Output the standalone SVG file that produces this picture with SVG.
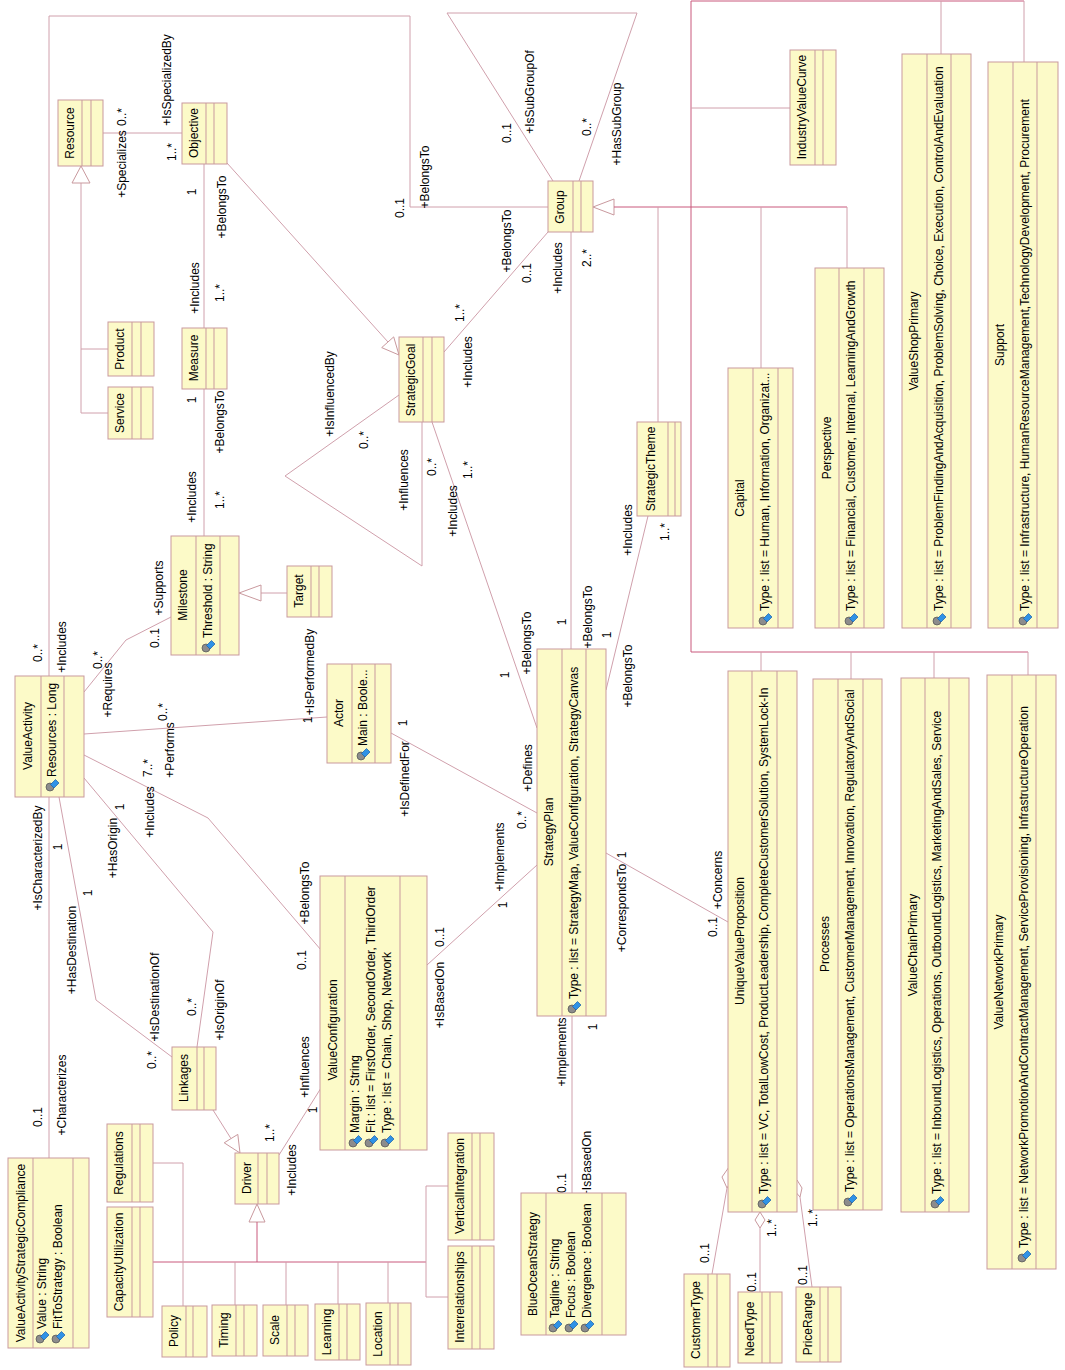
<svg xmlns="http://www.w3.org/2000/svg" xmlns:xlink="http://www.w3.org/1999/xlink" width="1065" height="1370" viewBox="0 0 1065 1370">
<style>
text{font-family:"Liberation Sans",Arial,sans-serif;font-size:12px;fill:#000;dominant-baseline:central}
.c{text-anchor:middle}
.s{text-anchor:start}
.box{fill:#fcfac8;stroke:#c9999e;stroke-width:1}
.cp{fill:none;stroke:#c9999e;stroke-width:1}
.a{fill:none;stroke:#d0a0ac;stroke-width:1}
.g{fill:none;stroke:#c9587d;stroke-width:1}
.tri{fill:#fff;stroke:#c9999e;stroke-width:1}
.dia{fill:#fff;stroke:#c9999e;stroke-width:1}
</style>
<defs>
<g id="ic"><circle cx="-2" cy="2" r="4" fill="#8c8c8c" stroke="#505050" stroke-width=".7"/><path d="M-1.5 -0.5L3.5 -5.5L7 -2L2 3Z" fill="#2f92e6" stroke="#1a5fa8" stroke-width=".7"/></g>
</defs>
<rect width="1065" height="1370" fill="#fff"/>

<g id="connectors">
<polyline class="a" points="49,676 49,16 410,16 410,207 548,207"/>
<line class="a" x1="103" y1="133" x2="182" y2="133"/>
<polyline class="a" points="108,413 81,413 81,183"/>
<line class="a" x1="108" y1="349" x2="81" y2="349"/>
<polygon class="tri" points="81,166 72,183 90,183"/>
<line class="a" x1="227" y1="163" x2="388" y2="342"/>
<polygon class="tri" points="399,355 381.7,347.6 393.7,336.9"/>
<line class="a" x1="204" y1="164" x2="204" y2="328"/>
<line class="a" x1="204" y1="389" x2="204" y2="536"/>
<line class="a" x1="287" y1="593" x2="261" y2="593"/>
<polygon class="tri" points="239,593 261,585 261,601"/>
<polyline class="a" points="84,692 126,640 171,617"/>
<line class="a" x1="84" y1="734" x2="327" y2="717"/>
<polyline class="a" points="84,755 208,818 321,950"/>
<polyline class="a" points="59,797 96,1000 172,1057"/>
<polyline class="a" points="84,778 213,932 197,1047"/>
<line class="a" x1="49" y1="797" x2="49" y2="1158"/>
<line class="a" x1="213" y1="1110" x2="231" y2="1138.6"/>
<polygon class="tri" points="240,1153 224.2,1142.8 237.8,1134.4"/>
<line class="a" x1="279" y1="1155" x2="321" y2="1088"/>
<polygon class="tri" points="257,1204 249,1222 265,1222"/>
<line class="g" x1="257" y1="1222" x2="257" y2="1262"/>
<line class="g" x1="153" y1="1262" x2="426" y2="1262"/>
<polyline class="a" points="153,1163 183,1163 183,1306"/>
<line class="a" x1="235" y1="1262" x2="235" y2="1305"/>
<line class="a" x1="286" y1="1262" x2="286" y2="1305"/>
<line class="a" x1="338" y1="1262" x2="338" y2="1304"/>
<line class="a" x1="388" y1="1262" x2="388" y2="1303"/>
<polyline class="a" points="448,1186 426,1186 426,1297 448,1297"/>
<line class="a" x1="427" y1="965" x2="537" y2="865"/>
<line class="a" x1="391" y1="733" x2="537" y2="813"/>
<polyline class="a" points="399,395 285,476 422,566 422,422"/>
<line class="a" x1="432" y1="422" x2="537" y2="728"/>
<line class="a" x1="444" y1="352" x2="548" y2="232"/>
<polyline class="a" points="553,181 447,13 637,13 579,181"/>
<line class="a" x1="571" y1="232" x2="571" y2="649"/>
<polygon class="tri" points="593,207 614,199 614,215"/>
<line class="g" x1="614" y1="207" x2="847" y2="207"/>
<line class="g" x1="691" y1="1" x2="691" y2="652"/>
<line class="g" x1="691" y1="1" x2="1024" y2="1"/>
<line class="a" x1="941" y1="1" x2="941" y2="54"/>
<line class="a" x1="1024" y1="1" x2="1024" y2="62"/>
<line class="a" x1="691" y1="108" x2="790" y2="108"/>
<line class="a" x1="761" y1="207" x2="761" y2="368"/>
<line class="a" x1="847" y1="207" x2="847" y2="268"/>
<line class="a" x1="658" y1="207" x2="658" y2="422"/>
<line class="g" x1="691" y1="652" x2="1028" y2="652"/>
<line class="a" x1="761" y1="652" x2="761" y2="671"/>
<line class="a" x1="851" y1="652" x2="851" y2="679"/>
<line class="a" x1="934" y1="652" x2="934" y2="678"/>
<line class="a" x1="1028" y1="652" x2="1028" y2="675"/>
<line class="a" x1="648" y1="516" x2="606" y2="690"/>
<line class="a" x1="572" y1="1016" x2="572" y2="1193"/>
<line class="a" x1="606" y1="853" x2="728" y2="922"/>
<polygon class="dia" points="729,1167 734,1177 727,1188 722,1177"/>
<line class="a" x1="727" y1="1188" x2="712" y2="1274"/>
<polygon class="dia" points="760,1212 765,1220 760,1228 755,1220"/>
<line class="a" x1="760" y1="1228" x2="760" y2="1292"/>
<polygon class="dia" points="797,1180 802,1188 800,1197 793,1189"/>
<line class="a" x1="800" y1="1197" x2="812" y2="1287"/>
</g>

<g id="labels">
<text class="c" transform="translate(122 117) rotate(-90)">0..*</text>
<text class="c" transform="translate(122 164) rotate(-90)">+Specializes</text>
<text class="c" transform="translate(167 80) rotate(-90)">+IsSpecializedBy</text>
<text class="c" transform="translate(172 152) rotate(-90)">1..*</text>
<text class="c" transform="translate(192 192) rotate(-90)">1</text>
<text class="c" transform="translate(222 207) rotate(-90)">+BelongsTo</text>
<text class="c" transform="translate(195 288) rotate(-90)">+Includes</text>
<text class="c" transform="translate(220 293) rotate(-90)">1..*</text>
<text class="c" transform="translate(192 400) rotate(-90)">1</text>
<text class="c" transform="translate(220 422) rotate(-90)">+BelongsTo</text>
<text class="c" transform="translate(192 497) rotate(-90)">+Includes</text>
<text class="c" transform="translate(220 500) rotate(-90)">1..*</text>
<text class="c" transform="translate(38 653) rotate(-90)">0..*</text>
<text class="c" transform="translate(62 647) rotate(-90)">+Includes</text>
<text class="c" transform="translate(400 208) rotate(-90)">0..1</text>
<text class="c" transform="translate(425 177) rotate(-90)">+BelongsTo</text>
<text class="c" transform="translate(98 660) rotate(-90)">0..*</text>
<text class="c" transform="translate(108 690) rotate(-90)">+Requires</text>
<text class="c" transform="translate(155 638) rotate(-90)">0..1</text>
<text class="c" transform="translate(159 588) rotate(-90)">+Supports</text>
<text class="c" transform="translate(163 712) rotate(-90)">0..*</text>
<text class="c" transform="translate(170 750) rotate(-90)">+Performs</text>
<text class="c" transform="translate(308 720) rotate(-90)">1</text>
<text class="c" transform="translate(310 672) rotate(-90)">+IsPerformedBy</text>
<text class="c" transform="translate(148 768) rotate(-90)">7..*</text>
<text class="c" transform="translate(150 812) rotate(-90)">+Includes</text>
<text class="c" transform="translate(305 893) rotate(-90)">+BelongsTo</text>
<text class="c" transform="translate(302 960) rotate(-90)">0..1</text>
<text class="c" transform="translate(88 893) rotate(-90)">1</text>
<text class="c" transform="translate(72 950) rotate(-90)">+HasDestination</text>
<text class="c" transform="translate(152 1060) rotate(-90)">0..*</text>
<text class="c" transform="translate(155 997) rotate(-90)">+IsDestinationOf</text>
<text class="c" transform="translate(120 807) rotate(-90)">1</text>
<text class="c" transform="translate(113 848) rotate(-90)">+HasOrigin</text>
<text class="c" transform="translate(192 1007) rotate(-90)">0..*</text>
<text class="c" transform="translate(220 1010) rotate(-90)">+IsOriginOf</text>
<text class="c" transform="translate(58 847) rotate(-90)">1</text>
<text class="c" transform="translate(38 858) rotate(-90)">+IsCharacterizedBy</text>
<text class="c" transform="translate(38 1117) rotate(-90)">0..1</text>
<text class="c" transform="translate(62 1095) rotate(-90)">+Characterizes</text>
<text class="c" transform="translate(305 1067) rotate(-90)">+Influences</text>
<text class="c" transform="translate(313 1110) rotate(-90)">1</text>
<text class="c" transform="translate(270 1133) rotate(-90)">1..*</text>
<text class="c" transform="translate(292 1170) rotate(-90)">+Includes</text>
<text class="c" transform="translate(403 723) rotate(-90)">1</text>
<text class="c" transform="translate(405 779) rotate(-90)">+IsDefinedFor</text>
<text class="c" transform="translate(522 820) rotate(-90)">0..*</text>
<text class="c" transform="translate(528 768) rotate(-90)">+Defines</text>
<text class="c" transform="translate(440 995) rotate(-90)">+IsBasedOn</text>
<text class="c" transform="translate(440 937) rotate(-90)">0..1</text>
<text class="c" transform="translate(503 905) rotate(-90)">1</text>
<text class="c" transform="translate(500 857) rotate(-90)">+Implements</text>
<text class="c" transform="translate(330 394) rotate(-90)">+IsInfluencedBy</text>
<text class="c" transform="translate(364 440) rotate(-90)">0..*</text>
<text class="c" transform="translate(404 480) rotate(-90)">+Influences</text>
<text class="c" transform="translate(432 467) rotate(-90)">0..*</text>
<text class="c" transform="translate(468 470) rotate(-90)">1..*</text>
<text class="c" transform="translate(453 511) rotate(-90)">+Includes</text>
<text class="c" transform="translate(505 675) rotate(-90)">1</text>
<text class="c" transform="translate(527 643) rotate(-90)">+BelongsTo</text>
<text class="c" transform="translate(460 313) rotate(-90)">1..*</text>
<text class="c" transform="translate(468 362) rotate(-90)">+Includes</text>
<text class="c" transform="translate(507 241) rotate(-90)">+BelongsTo</text>
<text class="c" transform="translate(527 273) rotate(-90)">0..1</text>
<text class="c" transform="translate(507 133) rotate(-90)">0..1</text>
<text class="c" transform="translate(530 92) rotate(-90)">+IsSubGroupOf</text>
<text class="c" transform="translate(587 127) rotate(-90)">0..*</text>
<text class="c" transform="translate(617 124) rotate(-90)">+HasSubGroup</text>
<text class="c" transform="translate(558 268) rotate(-90)">+Includes</text>
<text class="c" transform="translate(587 258) rotate(-90)">2..*</text>
<text class="c" transform="translate(562 622) rotate(-90)">1</text>
<text class="c" transform="translate(588 617) rotate(-90)">+BelongsTo</text>
<text class="c" transform="translate(628 530) rotate(-90)">+Includes</text>
<text class="c" transform="translate(665 532) rotate(-90)">1..*</text>
<text class="c" transform="translate(607 635) rotate(-90)">1</text>
<text class="c" transform="translate(628 676) rotate(-90)">+BelongsTo</text>
<text class="c" transform="translate(562 1052) rotate(-90)">+Implements</text>
<text class="c" transform="translate(593 1027) rotate(-90)">1</text>
<text class="c" transform="translate(562 1183) rotate(-90)">0..1</text>
<text class="c" transform="translate(587 1164) rotate(-90)">+IsBasedOn</text>
<text class="c" transform="translate(622 855) rotate(-90)">1</text>
<text class="c" transform="translate(622 908) rotate(-90)">+CorrespondsTo</text>
<text class="c" transform="translate(713 927) rotate(-90)">0..1</text>
<text class="c" transform="translate(718 880) rotate(-90)">+Concerns</text>
<text class="c" transform="translate(742 1182) rotate(-90)">1..*</text>
<text class="c" transform="translate(705 1253) rotate(-90)">0..1</text>
<text class="c" transform="translate(772 1228) rotate(-90)">1..*</text>
<text class="c" transform="translate(752 1282) rotate(-90)">0..1</text>
<text class="c" transform="translate(813 1218) rotate(-90)">1..*</text>
<text class="c" transform="translate(803 1275) rotate(-90)">0..1</text>
</g>

<g id="resource"><rect class="box" x="58" y="100" width="45" height="66"/><path class="cp" d="M82 100V166M91 100V166"/><text class="c" transform="translate(70 133) rotate(-90)">Resource</text></g>
<g id="objective"><rect class="box" x="182" y="103" width="45" height="61"/><path class="cp" d="M206 103V164M214 103V164"/><text class="c" transform="translate(194 133) rotate(-90)">Objective</text></g>
<g id="product"><rect class="box" x="108" y="322" width="46" height="54"/><path class="cp" d="M132 322V376M141 322V376"/><text class="c" transform="translate(120 349) rotate(-90)">Product</text></g>
<g id="service"><rect class="box" x="108" y="387" width="45" height="52"/><path class="cp" d="M132 387V439M141 387V439"/><text class="c" transform="translate(120 413) rotate(-90)">Service</text></g>
<g id="measure"><rect class="box" x="182" y="328" width="45" height="61"/><path class="cp" d="M206 328V389M214 328V389"/><text class="c" transform="translate(194 358) rotate(-90)">Measure</text></g>
<g id="strategicgoal"><rect class="box" x="399" y="337" width="45" height="85"/><path class="cp" d="M423 337V422M432 337V422"/><text class="c" transform="translate(411 380) rotate(-90)">StrategicGoal</text></g>
<g id="group"><rect class="box" x="548" y="181" width="45" height="51"/><path class="cp" d="M573 181V232M581 181V232"/><text class="c" transform="translate(560 207) rotate(-90)">Group</text></g>
<g id="industryvaluecurve"><rect class="box" x="790" y="50" width="46" height="115"/><path class="cp" d="M815 50V165M823 50V165"/><text class="c" transform="translate(802 107) rotate(-90)">IndustryValueCurve</text></g>
<g id="capital"><rect class="box" x="728" y="368" width="65" height="260"/><path class="cp" d="M753 368V628M778 368V628"/><text class="c" transform="translate(740 498) rotate(-90)">Capital</text><use xlink:href="#ic" x="765" y="619"/><text class="s" transform="translate(765 611) rotate(-90)">Type : list = Human, Information, Organizat...</text></g>
<g id="perspective"><rect class="box" x="815" y="268" width="69" height="360"/><path class="cp" d="M839 268V628M864 268V628"/><text class="c" transform="translate(827 448) rotate(-90)">Perspective</text><use xlink:href="#ic" x="851" y="619"/><text class="s" transform="translate(851 611) rotate(-90)">Type : list = Financial, Customer, Internal, LearningAndGrowth</text></g>
<g id="valueshopprimary"><rect class="box" x="902" y="54" width="69" height="574"/><path class="cp" d="M927 54V628M951 54V628"/><text class="c" transform="translate(914 341) rotate(-90)">ValueShopPrimary</text><use xlink:href="#ic" x="939" y="619"/><text class="s" transform="translate(939 611) rotate(-90)">Type : list = ProblemFindingAndAcquisition, ProblemSolving, Choice, Execution, ControlAndEvaluation</text></g>
<g id="support"><rect class="box" x="988" y="62" width="70" height="566"/><path class="cp" d="M1013 62V628M1037 62V628"/><text class="c" transform="translate(1000 345) rotate(-90)">Support</text><use xlink:href="#ic" x="1025" y="619"/><text class="s" transform="translate(1025 611) rotate(-90)">Type : list = Infrastructure, HumanResourceManagement,TechnologyDevelopment, Procurement</text></g>
<g id="strategictheme"><rect class="box" x="637" y="422" width="44" height="94"/><path class="cp" d="M668 422V516M675 422V516"/><text class="c" transform="translate(651 469) rotate(-90)">StrategicTheme</text></g>
<g id="valueactivity"><rect class="box" x="15" y="676" width="69" height="121"/><path class="cp" d="M41 676V797M64 676V797"/><text class="c" transform="translate(28 736) rotate(-90)">ValueActivity</text><use xlink:href="#ic" x="52" y="785"/><text class="s" transform="translate(52 777) rotate(-90)">Resources : Long</text></g>
<g id="milestone"><rect class="box" x="171" y="536" width="68" height="119"/><path class="cp" d="M196 536V655M220 536V655"/><text class="c" transform="translate(183 595) rotate(-90)">Milestone</text><use xlink:href="#ic" x="208" y="646"/><text class="s" transform="translate(208 638) rotate(-90)">Threshold : String</text></g>
<g id="target"><rect class="box" x="287" y="566" width="45" height="51"/><path class="cp" d="M311 566V617M319 566V617"/><text class="c" transform="translate(299 591) rotate(-90)">Target</text></g>
<g id="actor"><rect class="box" x="327" y="664" width="64" height="99"/><path class="cp" d="M352 664V763M375 664V763"/><text class="c" transform="translate(339 713) rotate(-90)">Actor</text><use xlink:href="#ic" x="363" y="754"/><text class="s" transform="translate(363 746) rotate(-90)">Main : Boole...</text></g>
<g id="strategyplan"><rect class="box" x="537" y="649" width="69" height="367"/><path class="cp" d="M562 649V1016M586 649V1016"/><text class="c" transform="translate(549 832) rotate(-90)">StrategyPlan</text><use xlink:href="#ic" x="574" y="1007"/><text class="s" transform="translate(574 999) rotate(-90)">Type : list = StrategyMap, ValueConfiguration, StrategyCanvas</text></g>
<g id="uniquevalueproposition"><rect class="box" x="728" y="671" width="69" height="541"/><path class="cp" d="M752 671V1212M777 671V1212"/><text class="c" transform="translate(740 941) rotate(-90)">UniqueValueProposition</text><use xlink:href="#ic" x="764" y="1202"/><text class="s" transform="translate(764 1194) rotate(-90)">Type : list = VC, TotalLowCost, ProductLeadership, CompleteCustomerSolution, SystemLock-In</text></g>
<g id="processes"><rect class="box" x="813" y="679" width="69" height="531"/><path class="cp" d="M838 679V1210M863 679V1210"/><text class="c" transform="translate(825 944) rotate(-90)">Processes</text><use xlink:href="#ic" x="850" y="1200"/><text class="s" transform="translate(850 1192) rotate(-90)">Type : list = OperationsManagement, CustomerManagement, Innovation, RegulatoryAndSocial</text></g>
<g id="valuechainprimary"><rect class="box" x="901" y="678" width="68" height="534"/><path class="cp" d="M925 678V1212M949 678V1212"/><text class="c" transform="translate(913 945) rotate(-90)">ValueChainPrimary</text><use xlink:href="#ic" x="937" y="1202"/><text class="s" transform="translate(937 1194) rotate(-90)">Type : list = InboundLogistics, Operations, OutboundLogistics, MarketingAndSales, Service</text></g>
<g id="valuenetworkprimary"><rect class="box" x="987" y="675" width="69" height="594"/><path class="cp" d="M1012 675V1269M1036 675V1269"/><text class="c" transform="translate(999 972) rotate(-90)">ValueNetworkPrimary</text><use xlink:href="#ic" x="1024" y="1256"/><text class="s" transform="translate(1024 1248) rotate(-90)">Type : list = NetworkPromotionAndContractManagement, ServiceProvisioning, InfrastructureOperation</text></g>
<g id="customertype"><rect class="box" x="684" y="1274" width="46" height="93"/><path class="cp" d="M708 1274V1367M717 1274V1367"/><text class="c" transform="translate(696 1320) rotate(-90)">CustomerType</text></g>
<g id="needtype"><rect class="box" x="738" y="1292" width="44" height="71"/><path class="cp" d="M762 1292V1363M770 1292V1363"/><text class="c" transform="translate(750 1329) rotate(-90)">NeedType</text></g>
<g id="pricerange"><rect class="box" x="796" y="1287" width="45" height="75"/><path class="cp" d="M820 1287V1362M828 1287V1362"/><text class="c" transform="translate(808 1324) rotate(-90)">PriceRange</text></g>
<g id="blueoceanstrategy"><rect class="box" x="521" y="1193" width="105" height="142"/><path class="cp" d="M546 1193V1335M602 1193V1335"/><text class="c" transform="translate(533 1264) rotate(-90)">BlueOceanStrategy</text><use xlink:href="#ic" x="555" y="1326"/><text class="s" transform="translate(555 1318) rotate(-90)">Tagline : String</text><use xlink:href="#ic" x="571" y="1326"/><text class="s" transform="translate(571 1318) rotate(-90)">Focus : Boolean</text><use xlink:href="#ic" x="587" y="1326"/><text class="s" transform="translate(587 1318) rotate(-90)">Divergence : Boolean</text></g>
<g id="valueconfiguration"><rect class="box" x="320" y="876" width="107" height="274"/><path class="cp" d="M345 876V1150M400 876V1150"/><text class="c" transform="translate(333 1030) rotate(-90)">ValueConfiguration</text><use xlink:href="#ic" x="355" y="1141"/><text class="s" transform="translate(355 1133) rotate(-90)">Margin : String</text><use xlink:href="#ic" x="371" y="1141"/><text class="s" transform="translate(371 1133) rotate(-90)">Fit : list = FirstOrder, SecondOrder, ThirdOrder</text><use xlink:href="#ic" x="387" y="1141"/><text class="s" transform="translate(387 1133) rotate(-90)">Type : list = Chain, Shop, Network</text></g>
<g id="valueactivitystrategiccompliance"><rect class="box" x="8" y="1158" width="81" height="190"/><path class="cp" d="M33 1158V1348M73 1158V1348"/><text class="c" transform="translate(21 1253) rotate(-90)">ValueActivityStrategicCompliance</text><use xlink:href="#ic" x="42" y="1337"/><text class="s" transform="translate(42 1329) rotate(-90)">Value : String</text><use xlink:href="#ic" x="58" y="1337"/><text class="s" transform="translate(58 1329) rotate(-90)">FitToStrategy : Boolean</text></g>
<g id="regulations"><rect class="box" x="107" y="1124" width="46" height="78"/><path class="cp" d="M132 1124V1202M140 1124V1202"/><text class="c" transform="translate(119 1163) rotate(-90)">Regulations</text></g>
<g id="capacityutilization"><rect class="box" x="107" y="1207" width="46" height="110"/><path class="cp" d="M132 1207V1317M140 1207V1317"/><text class="c" transform="translate(119 1262) rotate(-90)">CapacityUtilization</text></g>
<g id="linkages"><rect class="box" x="172" y="1047" width="44" height="63"/><path class="cp" d="M197 1047V1110M204 1047V1110"/><text class="c" transform="translate(184 1078) rotate(-90)">Linkages</text></g>
<g id="driver"><rect class="box" x="235" y="1153" width="44" height="51"/><path class="cp" d="M258 1153V1204M267 1153V1204"/><text class="c" transform="translate(247 1178) rotate(-90)">Driver</text></g>
<g id="policy"><rect class="box" x="162" y="1306" width="45" height="51"/><path class="cp" d="M186 1306V1357M193 1306V1357"/><text class="c" transform="translate(174 1331) rotate(-90)">Policy</text></g>
<g id="timing"><rect class="box" x="212" y="1305" width="45" height="51"/><path class="cp" d="M236 1305V1356M244 1305V1356"/><text class="c" transform="translate(224 1330) rotate(-90)">Timing</text></g>
<g id="scale"><rect class="box" x="263" y="1305" width="45" height="51"/><path class="cp" d="M287 1305V1356M295 1305V1356"/><text class="c" transform="translate(275 1330) rotate(-90)">Scale</text></g>
<g id="learning"><rect class="box" x="315" y="1304" width="45" height="56"/><path class="cp" d="M339 1304V1360M347 1304V1360"/><text class="c" transform="translate(327 1332) rotate(-90)">Learning</text></g>
<g id="location"><rect class="box" x="366" y="1303" width="45" height="62"/><path class="cp" d="M390 1303V1365M398 1303V1365"/><text class="c" transform="translate(378 1334) rotate(-90)">Location</text></g>
<g id="interrelationships"><rect class="box" x="448" y="1246" width="46" height="103"/><path class="cp" d="M472 1246V1349M480 1246V1349"/><text class="c" transform="translate(460 1297) rotate(-90)">Interrelationships</text></g>
<g id="verticalintegration"><rect class="box" x="448" y="1133" width="46" height="107"/><path class="cp" d="M472 1133V1240M480 1133V1240"/><text class="c" transform="translate(460 1186) rotate(-90)">VerticalIntegration</text></g>
</svg>
